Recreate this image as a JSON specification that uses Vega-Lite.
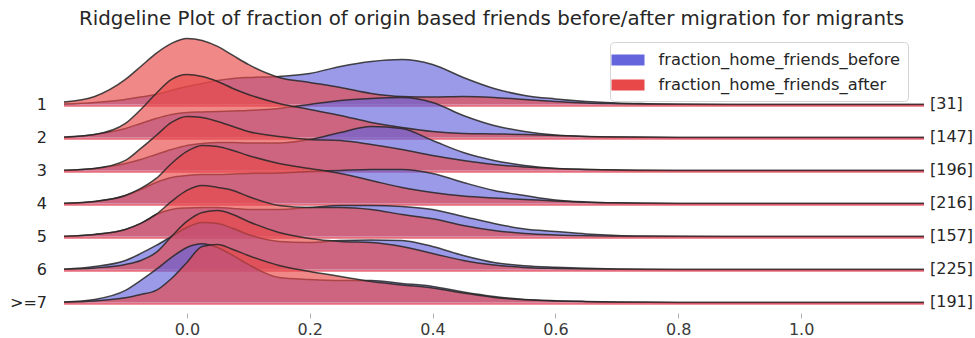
{
  "$schema": "https://vega.github.io/schema/vega-lite/v6.json",
  "padding": {"left": 10, "top": 8, "right": 2, "bottom": 2},
  "title": {"text": "Ridgeline Plot of fraction of origin based friends before/after migration for migrants", "fontSize": 19.8, "font": "DejaVu Sans", "fontWeight": "normal", "color": "#262626", "anchor": "middle", "offset": 7},
  "data": {"values": [
    {"g":"1","n":"[31]"},{"g":"2","n":"[147]"},{"g":"3","n":"[196]"},{"g":"4","n":"[216]"},{"g":"5","n":"[157]"},{"g":"6","n":"[225]"},{"g":">=7","n":"[191]"},
    {"g":"1","x":-0.2,"before":0.05,"after":0.25},{"g":"1","x":-0.15,"before":0.2,"after":0.8},{"g":"1","x":-0.1,"before":0.5,"after":2.5},{"g":"1","x":-0.075,"before":0.75,"after":3.8},{"g":"1","x":-0.05,"before":1.0,"after":5.1},{"g":"1","x":-0.025,"before":1.4,"after":6.1},{"g":"1","x":0,"before":1.8,"after":6.6},{"g":"1","x":0.025,"before":2.1,"after":6.4},{"g":"1","x":0.05,"before":2.4,"after":5.8},{"g":"1","x":0.075,"before":2.6,"after":4.9},{"g":"1","x":0.1,"before":2.7,"after":4.0},{"g":"1","x":0.15,"before":2.8,"after":2.7},{"g":"1","x":0.2,"before":3.1,"after":2.2},{"g":"1","x":0.25,"before":3.8,"after":1.7},{"g":"1","x":0.3,"before":4.3,"after":1.1},{"g":"1","x":0.35,"before":4.5,"after":0.8},{"g":"1","x":0.4,"before":4.0,"after":0.75},{"g":"1","x":0.45,"before":2.7,"after":0.8},{"g":"1","x":0.5,"before":1.6,"after":0.7},{"g":"1","x":0.55,"before":0.9,"after":0.5},{"g":"1","x":0.6,"before":0.55,"after":0.3},{"g":"1","x":0.65,"before":0.3,"after":0.15},{"g":"1","x":0.7,"before":0.15,"after":0.08},{"g":"1","x":0.75,"before":0.08,"after":0.03},{"g":"1","x":0.8,"before":0.03,"after":0.01},{"g":"1","x":0.9,"before":0,"after":0},{"g":"1","x":1.0,"before":0,"after":0},{"g":"1","x":1.1,"before":0,"after":0},{"g":"1","x":1.2,"before":0,"after":0},
    {"g":"2","x":-0.2,"before":0,"after":0.05},{"g":"2","x":-0.15,"before":0.3,"after":0.3},{"g":"2","x":-0.1,"before":0.9,"after":1.4},{"g":"2","x":-0.075,"before":1.4,"after":2.8},{"g":"2","x":-0.05,"before":1.9,"after":4.4},{"g":"2","x":-0.025,"before":2.3,"after":5.8},{"g":"2","x":0,"before":2.5,"after":6.3},{"g":"2","x":0.025,"before":2.55,"after":6.1},{"g":"2","x":0.05,"before":2.6,"after":5.6},{"g":"2","x":0.075,"before":2.65,"after":4.9},{"g":"2","x":0.1,"before":2.7,"after":4.3},{"g":"2","x":0.15,"before":2.9,"after":3.4},{"g":"2","x":0.2,"before":3.3,"after":2.8},{"g":"2","x":0.25,"before":3.7,"after":2.2},{"g":"2","x":0.3,"before":3.9,"after":1.5},{"g":"2","x":0.35,"before":4.0,"after":1.0},{"g":"2","x":0.4,"before":3.5,"after":0.6},{"g":"2","x":0.45,"before":2.2,"after":0.4},{"g":"2","x":0.5,"before":1.2,"after":0.35},{"g":"2","x":0.55,"before":0.6,"after":0.3},{"g":"2","x":0.6,"before":0.25,"after":0.2},{"g":"2","x":0.65,"before":0.1,"after":0.1},{"g":"2","x":0.7,"before":0.04,"after":0.05},{"g":"2","x":0.75,"before":0.01,"after":0.02},{"g":"2","x":0.8,"before":0,"after":0},{"g":"2","x":0.9,"before":0,"after":0},{"g":"2","x":1.0,"before":0,"after":0},{"g":"2","x":1.1,"before":0,"after":0},{"g":"2","x":1.2,"before":0,"after":0},
    {"g":"3","x":-0.2,"before":0,"after":0.03},{"g":"3","x":-0.15,"before":0.2,"after":0.2},{"g":"3","x":-0.1,"before":0.7,"after":1.0},{"g":"3","x":-0.075,"before":1.1,"after":2.2},{"g":"3","x":-0.05,"before":1.6,"after":3.5},{"g":"3","x":-0.025,"before":2.1,"after":4.8},{"g":"3","x":0,"before":2.5,"after":5.4},{"g":"3","x":0.025,"before":2.7,"after":5.3},{"g":"3","x":0.05,"before":2.8,"after":4.9},{"g":"3","x":0.075,"before":2.8,"after":4.4},{"g":"3","x":0.1,"before":2.75,"after":3.9},{"g":"3","x":0.15,"before":2.75,"after":3.4},{"g":"3","x":0.2,"before":3.1,"after":3.1},{"g":"3","x":0.25,"before":3.8,"after":3.0},{"g":"3","x":0.3,"before":4.4,"after":2.6},{"g":"3","x":0.35,"before":4.2,"after":2.1},{"g":"3","x":0.4,"before":3.0,"after":1.5},{"g":"3","x":0.45,"before":1.8,"after":1.0},{"g":"3","x":0.5,"before":1.0,"after":0.6},{"g":"3","x":0.55,"before":0.5,"after":0.35},{"g":"3","x":0.6,"before":0.2,"after":0.2},{"g":"3","x":0.65,"before":0.1,"after":0.1},{"g":"3","x":0.7,"before":0.04,"after":0.04},{"g":"3","x":0.75,"before":0,"after":0.01},{"g":"3","x":0.8,"before":0,"after":0},{"g":"3","x":0.9,"before":0,"after":0},{"g":"3","x":1.0,"before":0,"after":0},{"g":"3","x":1.1,"before":0,"after":0},{"g":"3","x":1.2,"before":0,"after":0},
    {"g":"4","x":-0.2,"before":0,"after":0.02},{"g":"4","x":-0.15,"before":0.2,"after":0.2},{"g":"4","x":-0.1,"before":0.8,"after":0.8},{"g":"4","x":-0.075,"before":1.4,"after":1.5},{"g":"4","x":-0.05,"before":2.1,"after":2.5},{"g":"4","x":-0.025,"before":2.6,"after":4.0},{"g":"4","x":0,"before":2.8,"after":5.2},{"g":"4","x":0.025,"before":2.9,"after":5.8},{"g":"4","x":0.05,"before":2.9,"after":5.7},{"g":"4","x":0.075,"before":2.95,"after":5.3},{"g":"4","x":0.1,"before":3.0,"after":4.8},{"g":"4","x":0.15,"before":3.05,"after":4.0},{"g":"4","x":0.2,"before":3.2,"after":3.5},{"g":"4","x":0.25,"before":3.3,"after":3.0},{"g":"4","x":0.3,"before":3.4,"after":2.3},{"g":"4","x":0.35,"before":3.4,"after":1.6},{"g":"4","x":0.4,"before":3.0,"after":1.1},{"g":"4","x":0.45,"before":2.1,"after":0.75},{"g":"4","x":0.5,"before":1.3,"after":0.55},{"g":"4","x":0.55,"before":0.8,"after":0.4},{"g":"4","x":0.6,"before":0.35,"after":0.25},{"g":"4","x":0.65,"before":0.15,"after":0.12},{"g":"4","x":0.7,"before":0.06,"after":0.05},{"g":"4","x":0.75,"before":0.02,"after":0.02},{"g":"4","x":0.8,"before":0,"after":0},{"g":"4","x":0.9,"before":0,"after":0},{"g":"4","x":1.0,"before":0,"after":0},{"g":"4","x":1.1,"before":0,"after":0},{"g":"4","x":1.2,"before":0,"after":0},
    {"g":"5","x":-0.2,"before":0,"after":0.02},{"g":"5","x":-0.15,"before":0.2,"after":0.2},{"g":"5","x":-0.1,"before":0.7,"after":0.7},{"g":"5","x":-0.075,"before":1.3,"after":1.3},{"g":"5","x":-0.05,"before":2.2,"after":2.2},{"g":"5","x":-0.025,"before":2.7,"after":3.5},{"g":"5","x":0,"before":2.85,"after":4.6},{"g":"5","x":0.025,"before":2.9,"after":5.1},{"g":"5","x":0.05,"before":2.9,"after":4.9},{"g":"5","x":0.075,"before":2.8,"after":4.6},{"g":"5","x":0.1,"before":2.7,"after":4.0},{"g":"5","x":0.15,"before":2.7,"after":3.1},{"g":"5","x":0.2,"before":2.9,"after":2.9},{"g":"5","x":0.25,"before":3.1,"after":2.9},{"g":"5","x":0.3,"before":3.1,"after":2.7},{"g":"5","x":0.35,"before":3.0,"after":2.2},{"g":"5","x":0.4,"before":2.7,"after":1.77},{"g":"5","x":0.45,"before":2.0,"after":1.1},{"g":"5","x":0.5,"before":1.3,"after":0.6},{"g":"5","x":0.55,"before":0.75,"after":0.3},{"g":"5","x":0.6,"before":0.5,"after":0.15},{"g":"5","x":0.65,"before":0.25,"after":0.06},{"g":"5","x":0.7,"before":0.1,"after":0.02},{"g":"5","x":0.75,"before":0.04,"after":0},{"g":"5","x":0.8,"before":0.01,"after":0},{"g":"5","x":0.9,"before":0,"after":0},{"g":"5","x":1.0,"before":0,"after":0},{"g":"5","x":1.1,"before":0,"after":0},{"g":"5","x":1.2,"before":0,"after":0},
    {"g":"6","x":-0.2,"before":0.03,"after":0.02},{"g":"6","x":-0.15,"before":0.3,"after":0.15},{"g":"6","x":-0.1,"before":0.9,"after":0.5},{"g":"6","x":-0.075,"before":1.6,"after":0.9},{"g":"6","x":-0.05,"before":2.4,"after":1.7},{"g":"6","x":-0.025,"before":3.3,"after":3.3},{"g":"6","x":0,"before":4.2,"after":4.8},{"g":"6","x":0.025,"before":4.7,"after":5.7},{"g":"6","x":0.05,"before":4.6,"after":5.9},{"g":"6","x":0.075,"before":4.1,"after":5.5},{"g":"6","x":0.1,"before":3.5,"after":4.8},{"g":"6","x":0.15,"before":2.8,"after":3.7},{"g":"6","x":0.2,"before":2.7,"after":3.1},{"g":"6","x":0.25,"before":2.9,"after":2.8},{"g":"6","x":0.3,"before":2.95,"after":2.7},{"g":"6","x":0.35,"before":2.9,"after":2.3},{"g":"6","x":0.4,"before":2.3,"after":1.6},{"g":"6","x":0.45,"before":1.4,"after":0.9},{"g":"6","x":0.5,"before":0.7,"after":0.45},{"g":"6","x":0.55,"before":0.37,"after":0.2},{"g":"6","x":0.6,"before":0.22,"after":0.1},{"g":"6","x":0.65,"before":0.12,"after":0.04},{"g":"6","x":0.7,"before":0.05,"after":0.01},{"g":"6","x":0.75,"before":0.01,"after":0},{"g":"6","x":0.8,"before":0,"after":0},{"g":"6","x":0.9,"before":0,"after":0},{"g":"6","x":1.0,"before":0,"after":0},{"g":"6","x":1.1,"before":0,"after":0},{"g":"6","x":1.2,"before":0,"after":0},
    {"g":">=7","x":-0.2,"before":0.05,"after":0.03},{"g":">=7","x":-0.15,"before":0.3,"after":0.15},{"g":">=7","x":-0.1,"before":1.2,"after":0.47},{"g":">=7","x":-0.075,"before":2.2,"after":0.8},{"g":">=7","x":-0.05,"before":3.3,"after":1.2},{"g":">=7","x":-0.025,"before":4.5,"after":2.4},{"g":">=7","x":0,"before":5.5,"after":4.0},{"g":">=7","x":0.025,"before":5.87,"after":5.6},{"g":">=7","x":0.05,"before":5.5,"after":5.8},{"g":">=7","x":0.075,"before":4.7,"after":5.3},{"g":">=7","x":0.1,"before":3.8,"after":4.7},{"g":">=7","x":0.15,"before":2.5,"after":3.7},{"g":">=7","x":0.2,"before":2.3,"after":3.1},{"g":">=7","x":0.25,"before":2.2,"after":2.6},{"g":">=7","x":0.3,"before":2.2,"after":2.1},{"g":">=7","x":0.35,"before":1.9,"after":1.75},{"g":">=7","x":0.4,"before":1.6,"after":1.45},{"g":">=7","x":0.45,"before":1.05,"after":0.95},{"g":">=7","x":0.5,"before":0.6,"after":0.5},{"g":">=7","x":0.55,"before":0.3,"after":0.27},{"g":">=7","x":0.6,"before":0.17,"after":0.15},{"g":">=7","x":0.65,"before":0.1,"after":0.08},{"g":">=7","x":0.7,"before":0.05,"after":0.03},{"g":">=7","x":0.75,"before":0.02,"after":0.01},{"g":">=7","x":0.8,"before":0,"after":0},{"g":">=7","x":0.9,"before":0,"after":0},{"g":">=7","x":1.0,"before":0,"after":0},{"g":">=7","x":1.1,"before":0,"after":0},{"g":">=7","x":1.2,"before":0,"after":0}
  ]},
  "facet": {"row": {"field": "g", "type": "nominal", "sort": ["1","2","3","4","5","6",">=7"], "title": null, "header": null}},
  "spacing": 0,
  "bounds": "flush",
  "spec": {
    "width": 860,
    "height": 32.45,
    "layer": [
      {"transform": [{"filter": "datum.x != null"}, {"fold": ["before", "after"], "as": ["series", "density"]}, {"filter": "datum.series == 'before'"}],
       "mark": {"type": "area", "interpolate": "monotone", "fillOpacity": 0.65},
       "encoding": {
         "x": {"field": "x", "type": "quantitative", "scale": {"domain": [-0.2, 1.2], "nice": false, "zero": false},
            "axis": {"values": [0, 0.2, 0.4, 0.6, 0.8, 1.0], "format": ".1f", "domain": false, "grid": false, "ticks": true, "tickSize": 5, "tickColor": "#b0b0b0", "offset": 10, "labelFontSize": 16, "labelFont": "DejaVu Sans", "labelColor": "#3a3a3a", "labelPadding": 3, "title": null}},
         "y": {"field": "density", "type": "quantitative", "scale": {"domain": [0, 10], "range": [32.45, -67.55], "nice": false, "zero": false}, "axis": null},
         "color": {"field": "series", "type": "nominal", "scale": {"domain": ["before", "after"], "range": ["#6464dc", "#e84848"]},
         "legend": {"orient": "none", "legendX": 546, "legendY": -30, "title": null, "labelFontSize": 16.3, "labelFont": "DejaVu Sans", "labelColor": "#262626", "labelLimit": 0, "labelExpr": "'fraction_home_friends_' + datum.label", "symbolType": "M-1.5,-0.5H1.5V0.5H-1.5Z", "symbolSize": 484, "symbolStrokeWidth": 0, "symbolOpacity": 1, "fillColor": "white", "strokeColor": "#d5d5d5", "cornerRadius": 4, "padding": 7, "rowPadding": 5, "labelOffset": 19.5}}}},
      {"transform": [{"filter": "datum.x != null"}, {"fold": ["before", "after"], "as": ["series", "density"]}, {"filter": "datum.series == 'before'"}],
       "mark": {"type": "line", "interpolate": "monotone", "color": "#262626", "strokeWidth": 1.5, "opacity": 0.85},
       "encoding": {"x": {"field": "x", "type": "quantitative"}, "y": {"field": "density", "type": "quantitative"}}},
      {"transform": [{"filter": "datum.x != null"}, {"fold": ["before", "after"], "as": ["series", "density"]}, {"filter": "datum.series == 'after'"}],
       "mark": {"type": "area", "interpolate": "monotone", "fillOpacity": 0.65},
       "encoding": {"x": {"field": "x", "type": "quantitative"}, "y": {"field": "density", "type": "quantitative"}, "color": {"field": "series", "type": "nominal"}}},
      {"transform": [{"filter": "datum.x != null"}, {"fold": ["before", "after"], "as": ["series", "density"]}, {"filter": "datum.series == 'after'"}],
       "mark": {"type": "line", "interpolate": "monotone", "color": "#262626", "strokeWidth": 1.5, "opacity": 0.85},
       "encoding": {"x": {"field": "x", "type": "quantitative"}, "y": {"field": "density", "type": "quantitative"}}},
      {"transform": [{"filter": "datum.n != null"}],
       "mark": {"type": "rule", "color": "#e03c50", "strokeWidth": 2.2, "opacity": 0.75},
       "encoding": {"y": {"datum": -0.13, "type": "quantitative"}}},
      {"transform": [{"filter": "datum.n != null"}],
       "mark": {"type": "text", "align": "right", "baseline": "middle", "dx": -17, "dy": 1, "fontSize": 16, "font": "DejaVu Sans", "color": "#262626"},
       "encoding": {"x": {"datum": -0.2, "type": "quantitative"}, "y": {"datum": 0, "type": "quantitative"}, "text": {"field": "g", "type": "nominal"}}},
      {"transform": [{"filter": "datum.n != null"}],
       "mark": {"type": "text", "align": "left", "baseline": "middle", "dx": 6, "fontSize": 16, "font": "DejaVu Sans", "color": "#262626"},
       "encoding": {"x": {"datum": 1.2, "type": "quantitative"}, "y": {"datum": 0, "type": "quantitative"}, "text": {"field": "n", "type": "nominal"}}}
    ]
  },
  "config": {"view": {"stroke": null}, "font": "DejaVu Sans"}
}
